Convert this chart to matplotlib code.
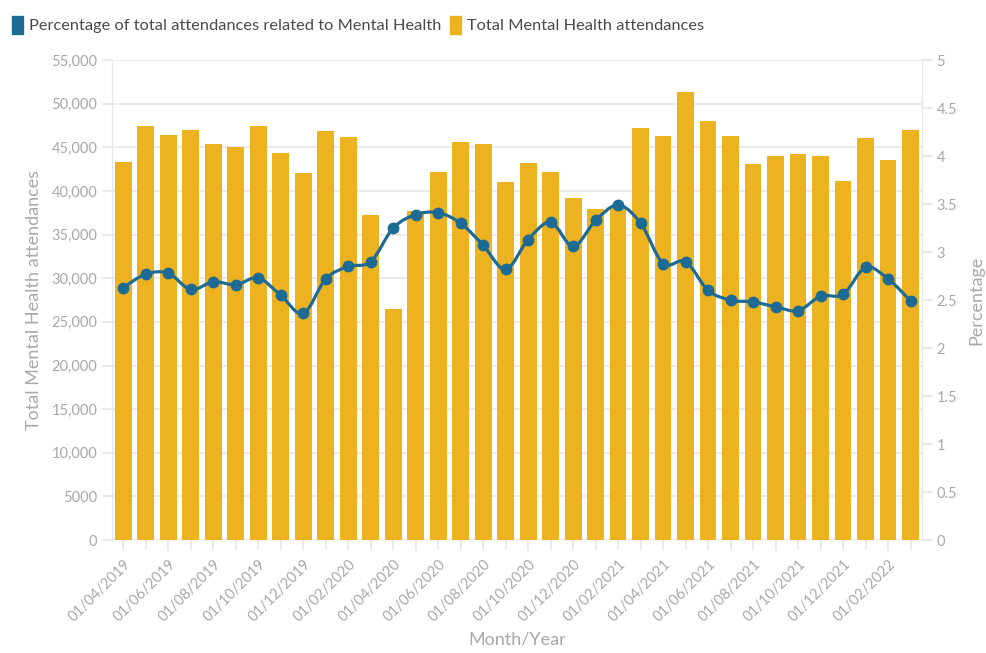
import numpy as np
import matplotlib.pyplot as plt
from matplotlib.path import Path
from matplotlib.patches import PathPatch, Patch
from matplotlib.ticker import FuncFormatter

# -----------------------------
# Data
# -----------------------------
months = [
    "01/04/2019", "01/05/2019", "01/06/2019", "01/07/2019", "01/08/2019", "01/09/2019",
    "01/10/2019", "01/11/2019", "01/12/2019", "01/01/2020", "01/02/2020", "01/03/2020",
    "01/04/2020", "01/05/2020", "01/06/2020", "01/07/2020", "01/08/2020", "01/09/2020",
    "01/10/2020", "01/11/2020", "01/12/2020", "01/01/2021", "01/02/2021", "01/03/2021",
    "01/04/2021", "01/05/2021", "01/06/2021", "01/07/2021", "01/08/2021", "01/09/2021",
    "01/10/2021", "01/11/2021", "01/12/2021", "01/01/2022", "01/02/2022", "01/03/2022",
]

attendances = [
    43350, 47470, 46400, 46940, 45340, 45000, 47400, 44380, 42090, 46900, 46140, 37280,
    26500, 37730, 42200, 45640, 45340, 41060, 43200, 42130, 39150, 37890, 38300, 47200,
    46330, 51370, 48050, 46330, 43080, 44040, 44230, 44040, 41170, 46060, 43540, 46940,
]

percentage = [
    2.63, 2.77, 2.78, 2.61, 2.69, 2.66, 2.73, 2.55, 2.36, 2.72, 2.85, 2.90,
    3.25, 3.39, 3.41, 3.30, 3.07, 2.82, 3.13, 3.31, 3.06, 3.33, 3.49, 3.30,
    2.88, 2.90, 2.60, 2.50, 2.48, 2.43, 2.39, 2.54, 2.56, 2.84, 2.72, 2.49,
]

bar_color = "#ecb21f"
line_color = "#1d6b95"
text_grey = "#a8a8a8"
grid_grey = "#e6e6e6"

plt.rcParams["font.family"] = ["Lato", "DejaVu Sans"]


def smooth_path(x, y, tension=0.5):
    # cubic bezier segments through every point (catmull-rom style)
    x = np.asarray(x, float)
    y = np.asarray(y, float)
    verts = [(x[0], y[0])]
    codes = [Path.MOVETO]
    n = len(x)
    for i in range(n - 1):
        x0, y0 = (x[i - 1], y[i - 1]) if i > 0 else (x[i], y[i])
        x3, y3 = (x[i + 2], y[i + 2]) if i + 2 < n else (x[i + 1], y[i + 1])
        c1 = (x[i] + (x[i + 1] - x0) * tension / 3, y[i] + (y[i + 1] - y0) * tension / 3)
        c2 = (x[i + 1] - (x3 - x[i]) * tension / 3, y[i + 1] - (y3 - y[i]) * tension / 3)
        verts += [c1, c2, (x[i + 1], y[i + 1])]
        codes += [Path.CURVE4] * 3
    return Path(verts, codes)


# -----------------------------
# Plot
# -----------------------------
fig = plt.figure(figsize=(9.87, 6.53), dpi=100)
ax = fig.add_axes([0.1135, 0.173, 0.8205, 0.735])
ax2 = ax.twinx()

xs = np.arange(len(months))
ax.bar(xs, attendances, width=0.74, color=bar_color, zorder=2)

ax2.add_patch(PathPatch(smooth_path(xs, percentage), facecolor="none",
                        edgecolor=line_color, linewidth=2.3, zorder=3))
ax2.plot(xs, percentage, linestyle="none", marker="o", markersize=7.5,
         color=line_color, zorder=4)

ax.set_xlim(-0.5, len(months) - 0.5)
ax.set_ylim(0, 55000)
ax2.set_ylim(0, 5)

ax.set_yticks(np.arange(0, 55001, 5000))
ax.yaxis.set_major_formatter(FuncFormatter(
    lambda v, p: "5000" if v == 5000 else f"{int(v):,}"))
ax2.set_yticks(np.arange(0, 5.01, 0.5))
ax2.yaxis.set_major_formatter(FuncFormatter(lambda v, p: f"{v:g}"))

ax.set_xticks(xs)
ax.set_xticklabels([m if i % 2 == 0 else "" for i, m in enumerate(months)],
                   rotation=45, ha="right", rotation_mode="anchor")

ax.grid(axis="y", color=grid_grey, linewidth=1.2, zorder=0)
ax.set_axisbelow(True)

for a in (ax, ax2):
    for side in ("top", "bottom"):
        a.spines[side].set_visible(False)
    a.spines["left"].set_color(grid_grey)
    a.spines["right"].set_color(grid_grey)
    a.tick_params(colors=grid_grey, labelcolor=text_grey, labelsize=10.5,
                  length=7, width=1.2)
ax.tick_params(axis="x", pad=5)

ax.set_ylabel("Total Mental Health attendances", color=text_grey, fontsize=13)
ax.yaxis.set_label_coords(-0.086, 0.5)
ax2.set_ylabel("Percentage", color=text_grey, fontsize=13)
ax2.yaxis.set_label_coords(1.058, 0.5)
ax.set_xlabel("Month/Year", color=text_grey, fontsize=13)
ax.xaxis.set_label_coords(0.5, -0.19)

handles = [Patch(color=line_color, label="Percentage of total attendances related to Mental Health"),
           Patch(color=bar_color, label="Total Mental Health attendances")]
fig.legend(handles=handles, loc="upper left", bbox_to_anchor=(-0.003, 0.998), ncol=2,
           frameon=False, fontsize=11.8, handlelength=0.7, handleheight=1.3,
           handletextpad=0.35, columnspacing=0.5, labelcolor="#4a4a4a")

fig.savefig("out.png", dpi=100, facecolor="white")
